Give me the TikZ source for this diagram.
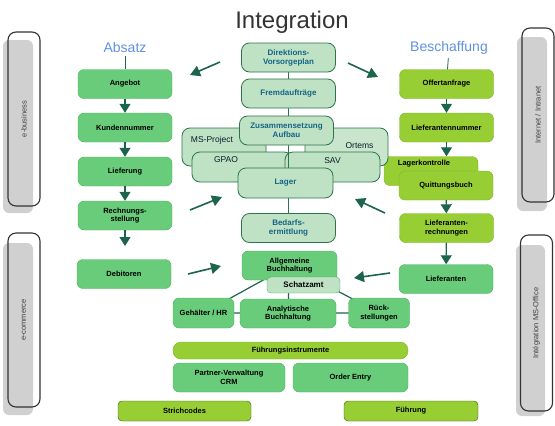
\documentclass[tikz,border=0pt]{standalone}
\usepackage{fontspec}
\setmainfont{Liberation Sans}
\usepackage{tikz}
\usepackage{xcolor}
\usetikzlibrary{positioning, arrows.meta}
\definecolor{boxgreen}{RGB}{104,204,122}
\definecolor{boxgreenline}{RGB}{80,175,100}
\definecolor{boxlime}{RGB}{150,206,52}
\definecolor{boxlimeline}{RGB}{125,180,40}
\definecolor{boxpale}{RGB}{192,226,196}
\definecolor{paleline}{RGB}{45,115,75}
\definecolor{paletext}{RGB}{20,100,135}
\definecolor{arrowgreen}{RGB}{28,100,78}
\definecolor{headblue}{RGB}{95,145,225}
\definecolor{panelgray}{RGB}{208,208,208}
\tikzset{
  box/.style={
    draw, rounded corners=6pt,
    minimum width=94pt, minimum height=29pt,
    inner sep=1pt, align=center,
    font=\fontsize{7.5}{8.5}\selectfont\bfseries
  },
  greenbox/.style={box, fill=boxgreen, draw=boxgreenline},
  limebox/.style={box, fill=boxlime, draw=boxlimeline},
  palebox/.style={box, fill=boxpale, draw=paleline, line width=0.8pt,
    rounded corners=8pt, text=paletext,
    font=\fontsize{8}{9}\selectfont\bfseries},
  subtext/.style={text=black!70!paletext, font=\fontsize{8.5}{9}\selectfont},
  panel/.style={draw=black!80, line width=1.1pt, rounded corners=8pt,
    minimum width=174pt, minimum height=32pt, rotate=90,
    text=black!75, font=\fontsize{7.5}{8}\selectfont},
  heading/.style={text=headblue, font=\fontsize{14}{15}\selectfont},
  dnarrow/.style={draw=arrowgreen, line width=1.2pt,
    -{Triangle[length=9pt, width=11pt]}},
  bigarrow/.style={draw=arrowgreen, line width=1.6pt,
    -{Triangle[length=10pt, width=11pt]}},
  link/.style={draw=arrowgreen, line width=1.2pt},
}

\begin{document}
\begin{tikzpicture}[x=1pt, y=-1pt]
  \useasboundingbox (0,0) rectangle (555,426);

  % seitliche Rahmen
  \fill[panelgray, rounded corners=6pt] (3,40) rectangle (33,213);
  \fill[panelgray, rounded corners=6pt] (3,243) rectangle (33,415);
  \fill[panelgray, rounded corners=6pt] (517,37) rectangle (547,211);
  \fill[panelgray, rounded corners=6pt] (516,245) rectangle (545,416);
  \node[panel] (ebus)  at (24,119)  {e-business};
  \node[panel] (ecom)  at (24,320)  {e-commerce};
  \node[panel] (inet)  at (538,115) {Internet / Intranet};
  \node[panel, minimum width=176pt] (msoff) at (536.5,323) {Intégration MS-Office};

  \node[text=black!80, font=\fontsize{24}{26}\selectfont] (title) at (292,22) {Integration};
  \node[heading] (absatz) at (125,47) {Absatz};
  \node[heading] (besch)  at (449,48) {Beschaffung};

  % Absatz
  \node[greenbox] (ang)  at (125,84)    {Angebot};
  \node[greenbox] (kun)  at (125,127.5) {Kundennummer};
  \node[greenbox] (lief) at (125,171.5) {Lieferung};
  \node[greenbox] (rech) at (125,215.5) {Rechnungs-\\stellung};
  \node[greenbox] (deb)  at (124,274)   {Debitoren};
  \coordinate (rechend) at (125,246);

  \draw[link, line width=0.8pt] (absatz) -- (ang);
  \path (ang)  edge[dnarrow] (kun)
        (kun)  edge[dnarrow] (lief)
        (lief) edge[dnarrow] (rech)
        (rech.south) edge[dnarrow] (rechend);

  % Beschaffung
  \node[limebox]  (off) at (446.5,84)    {Offertanfrage};
  \node[limebox]  (lnr) at (446.5,127.5) {Lieferantennummer};
  \node[limebox, label={[font=\fontsize{7.5}{8.5}\selectfont\bfseries, xshift=-7pt, yshift=7pt]center:Lagerkontrolle}] (lk) at (431,171) {};
  \node[limebox]  (qb)  at (446,185.5)   {Quittungsbuch};
  \node[limebox]  (lre) at (446.5,228)   {Lieferanten-\\rechnungen};
  \node[greenbox] (lft) at (446,279)     {Lieferanten};

  \draw[link, line width=0.8pt] (besch) -- (off);
  \path (off) edge[dnarrow] (lnr)
        (lnr.south) edge[dnarrow] (lnr.south |- lk.north)
        (qb)  edge[dnarrow] (lre)
        (lre) edge[dnarrow] (lft);

  % Mitte
  \node[palebox, minimum width=84pt, minimum height=38pt,
        label={[subtext, xshift=-12pt, yshift=7pt]center:MS-Project}] (msp) at (224,147) {};
  \node[palebox, minimum width=83pt, minimum height=38pt, fill=boxpale!85!white,
        label={[subtext, xshift=13pt, yshift=1pt]center:Ortems}] (ort) at (346.5,147) {};
  \node[palebox, minimum width=100pt, minimum height=30pt,
        label={[subtext, xshift=-16pt, yshift=7pt]center:GPAO}] (gpao) at (242,167) {};
  \node[palebox, minimum width=95pt, minimum height=30pt,
        label={[subtext, yshift=6pt]center:SAV}] (sav) at (332.5,167) {};
  \coordinate (mtop) at (288.5,57.5);
  \coordinate (mbot) at (288.5,228);
  \draw[link, draw=paleline] (mtop) -- (mbot);
  \node[palebox] (dir)   at (288.5,57.5) {Direktions-\\Vorsorgeplan};
  \node[palebox] (fremd) at (288.5,93.5) {Fremdaufträge};
  \node[palebox] (zus)   at (286.5,130.5) {Zusammensetzung\\Aufbau};
  \node[palebox, minimum width=95pt, minimum height=30pt] (lag) at (285.5,183) {Lager};
  \node[palebox] (bed)   at (288.5,228)  {Bedarfs-\\ermittlung};

  % Buchhaltung
  \coordinate (geh0) at (203.5,313);
  \coordinate (rueck0) at (379,313);
  \coordinate (allg0) at (289.5,265.5);
  \coordinate (ana0) at (288,313.5);
  \draw[link] (geh0) -- (allg0) (rueck0) -- (allg0) (geh0) -- (rueck0)
              (ana0) -- (allg0);
  \node[greenbox, minimum width=95pt] (allg) at (289.5,265.5) {Allgemeine\\Buchhaltung};
  \node[palebox, draw=boxgreenline, line width=0.4pt, rounded corners=4pt, text=black,
        minimum width=73pt, minimum height=16pt] (schatz) at (303.5,285) {Schatzamt};
  \node[greenbox, minimum width=96pt] (ana) at (288,313.5) {Analytische\\Buchhaltung};
  \node[greenbox, minimum width=61pt, minimum height=30pt] (geh) at (203.5,313) {Gehälter / HR};
  \node[greenbox, minimum width=61pt, minimum height=30pt] (rueck) at (379,313) {Rück-\\stellungen};

  % unten
  \node[limebox, minimum width=235pt, minimum height=17pt, rounded corners=8pt] (fi) at (290.5,350.5) {Führungsinstrumente};
  \node[greenbox, minimum width=112pt] (crm) at (229,377.5) {Partner-Verwaltung\\CRM};
  \node[greenbox, minimum width=115pt] (oe)  at (350.5,377.5) {Order Entry};
  \node[limebox, draw=black!60!boxlime, minimum width=133pt, minimum height=20pt, rounded corners=4pt] (strich) at (184.5,411) {Strichcodes};
  \node[limebox, draw=black!60!boxlime, minimum width=134pt, minimum height=20pt, rounded corners=4pt] (fuehr) at (411,411) {Führung};

  % Pfeile
  \coordinate (p1a) at (220,62);  \coordinate (p1b) at (190,75);
  \coordinate (p2a) at (348,63);  \coordinate (p2b) at (378,77);
  \coordinate (p3a) at (190,210); \coordinate (p3b) at (222,197);
  \coordinate (p4a) at (385,213); \coordinate (p4b) at (355,199);
  \coordinate (p5a) at (188,274); \coordinate (p5b) at (221,266);
  \coordinate (p6a) at (390,273); \coordinate (p6b) at (354,278);
  \foreach \n in {1,...,6}
    \draw[bigarrow] (p\n a) -- (p\n b);

\end{tikzpicture}
\end{document}
